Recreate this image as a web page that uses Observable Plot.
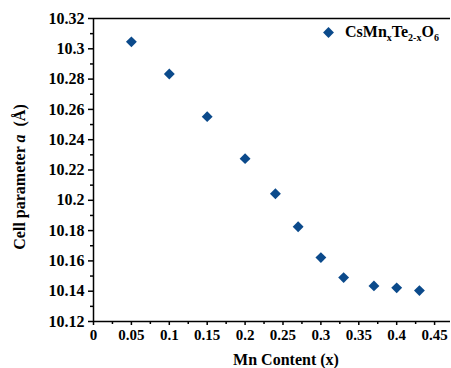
<!DOCTYPE html>
<html><head><meta charset="utf-8">
<script src="https://cdn.jsdelivr.net/npm/d3@7"></script>
<script src="https://cdn.jsdelivr.net/npm/@observablehq/plot@0.6"></script>
<style>
body{margin:0;background:#fff;}
#chart svg{display:block;}
#chart svg text{font-family:'Liberation Serif','Times New Roman',serif !important;font-weight:bold;}
</style></head>
<body><div id="chart"></div>
<script>
const mnContent = [0.05, 0.10, 0.15, 0.20, 0.24, 0.27, 0.30, 0.33, 0.37, 0.40, 0.43];
const cellA = [10.3046, 10.2834, 10.2552, 10.2275, 10.2043, 10.1825, 10.1622, 10.1490, 10.1435, 10.1422, 10.1404];
const xTicks = [0, 0.05, 0.1, 0.15, 0.2, 0.25, 0.3, 0.35, 0.4, 0.45];
const xMinor = [0.025, 0.075, 0.125, 0.175, 0.225, 0.275, 0.325, 0.375, 0.425];
const yTicks = [10.12, 10.14, 10.16, 10.18, 10.2, 10.22, 10.24, 10.26, 10.28, 10.3, 10.32];
const yMinor = [10.13, 10.15, 10.17, 10.19, 10.21, 10.23, 10.25, 10.27, 10.29, 10.31];
const seriesName = "CsMnxTe2-xO6";
const xTitle = "Mn Content (x)";
const color = "#0b4a8b";

const data = mnContent.map((x, i) => ({x, a: cellA[i]}));
const font = "'Liberation Serif', 'Times New Roman', serif";

const plot = Plot.plot({
  width: 451, height: 368,
  marginLeft: 93, marginRight: 1, marginTop: 18, marginBottom: 47,
  style: {fontFamily: font, fontSize: "15px", fontWeight: "bold", color: "#000", background: "#fff"},
  x: {domain: [0, 0.471], label: null},
  y: {domain: [10.12, 10.32], label: null},
  marks: [
    Plot.axisX(xTicks, {tickSize: 4, tickPadding: 4, tickFormat: d => String(+d.toFixed(2)), strokeWidth: 1.5, fontSize: 15}),
    Plot.axisX(xMinor, {tickSize: 3, text: null, strokeWidth: 1.5}),
    Plot.axisY(yTicks, {tickSize: 5, tickPadding: 4, tickFormat: d => String(+d.toFixed(2)), strokeWidth: 1.5, fontSize: 16}),
    Plot.axisY(yMinor, {tickSize: 3, text: null, strokeWidth: 1.5}),
    Plot.ruleX([0], {stroke: "#000", strokeWidth: 1.5}),
    Plot.ruleY([10.12], {stroke: "#000", strokeWidth: 1.5}),
    Plot.ruleY([10.32], {stroke: "#000", strokeWidth: 1.5}),
    Plot.dot(data, {x: "x", y: "a", symbol: "diamond2", r: 4.9, fill: color, stroke: "none"}),
    Plot.dot([seriesName], {frameAnchor: "top-right", dx: -122, dy: 14, symbol: "diamond2", r: 4.9, fill: color, stroke: "none"})
  ]
});
document.getElementById("chart").appendChild(plot);

const svg = d3.select(plot);
// legend text with subscripts
const lt = svg.append("text").attr("x", 345).attr("y", 37).attr("text-anchor", "start")
  .style("font-size", "16px").attr("fill", "#000");
lt.append("tspan").text("CsMn");
lt.append("tspan").style("font-size", "10px").attr("dy", 4).text("x");
lt.append("tspan").attr("dy", -4).text("Te");
lt.append("tspan").style("font-size", "10px").attr("dy", 4).text("2-x");
lt.append("tspan").attr("dy", -4).text("O");
lt.append("tspan").style("font-size", "10px").attr("dy", 4).text("6");

// y title
const yt = svg.append("text").attr("transform", "translate(25,177) rotate(-90)")
  .attr("text-anchor", "middle").style("font-size", "16px").attr("fill", "#000");
yt.append("tspan").text("Cell parameter ");
yt.append("tspan").style("font-style", "italic").text("a");
yt.append("tspan").text("  (Å)");

// x title
svg.append("text").attr("x", 286).attr("y", 365).attr("text-anchor", "middle")
  .style("font-size", "16px").attr("fill", "#000").text(xTitle);
</script>
</body></html>
